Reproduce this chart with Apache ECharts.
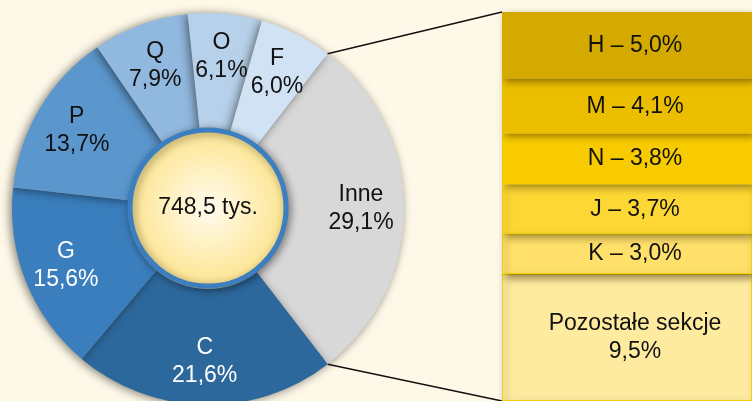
<!DOCTYPE html>
<html>
<head>
<meta charset="utf-8">
<script src="https://cdn.jsdelivr.net/npm/echarts@6/dist/echarts.min.js"></script>
<style>
    html,body{margin:0;padding:0;background:#fdf8e7;}
    #main{width:752px;height:401px;}
</style>
</head>
<body>
<div id="main"></div>
<script>
// dane - koło
var pieNames=["Inne","C","G","P","Q","O","F"];
var pieValues=[29.1,21.6,15.6,13.7,7.9,6.1,6.0];
var pieColors=["#d8d8d8","#2d689c","#3a7ebd","#5b96cc","#91b8de","#b7d1ea","#d0e2f3"];
var whiteLabels=["C","G"];

// dane - rozbicie "Inne"
var boxNames=["H","M","N","J","K","Pozostałe sekcje"];
var boxValues=[5.0,4.1,3.8,3.7,3.0,9.5];
var boxColors=["#d4a900","#ebbf00","#f8cb00","#fdd835","#fee06b","#feeba0"];
var boxBorders=[null,null,null,"#f0cf10","#f0cf10","#f0cf10"];

var total="748,5 tys.";

var font="Liberation Sans, Arial, sans-serif";
var cx=208,cy=209,r0=80,r1=196,start=52.4;

function fmt(v){
    return v.toFixed(1).replace(".",",");
}

var pieData=pieNames.map(function(n,i){
    return {name:n,value:pieValues[i],itemStyle:{color:pieColors[i]}};
})
var labelData=pieNames.map(function(n,i){
    return {name:n,value:pieValues[i]};
})

var sumInne=boxValues.reduce(function(a,b){return a+b;},0);

var series=[{
    type:"pie",
    center:[cx,cy],
    radius:[r0,r1],
    startAngle:start,
    clockwise:true,
    silent:true,
    label:{show:false},
    labelLine:{show:false},
    itemStyle:{shadowBlur:10,shadowColor:"rgba(0,0,0,0.5)",shadowOffsetX:-2,shadowOffsetY:1},
    data:pieData,
    z:2
},{
    // tylko etykiety, trochę dalej od środka
    type:"pie",
    center:[cx,cy],
    radius:[104,r1],
    startAngle:start,
    clockwise:true,
    silent:true,
    itemStyle:{color:"rgba(0,0,0,0)"},
    label:{
        show:true,
        position:"inside",
        formatter:function(p){
            var s=p.name+"\n"+fmt(p.value)+"%";
            return whiteLabels.indexOf(p.name)>=0?"{w|"+s+"}":"{b|"+s+"}";
        },
        rich:{
            w:{color:"#fff",fontFamily:font,fontSize:23,lineHeight:28},
            b:{color:"#111",fontFamily:font,fontSize:23,lineHeight:28}
        }
    },
    labelLine:{show:false},
    data:labelData,
    z:3
}];

boxNames.forEach(function(n,i){
    series.push({
        type:"bar",
        stack:"inne",
        name:n,
        xAxisIndex:0,
        yAxisIndex:0,
        barWidth:"100%",
        z:20-i,
        itemStyle:{
            color:boxColors[i],
            borderColor:boxBorders[i]||boxColors[i],
            borderWidth:boxBorders[i]?1:0,
            shadowBlur:7,
            shadowColor:"rgba(60,40,0,0.5)",
            shadowOffsetX:3,
            shadowOffsetY:3
        },
        label:{
            show:true,
            position:"inside",
            offset:[8,0],
            fontFamily:font,
            fontSize:23,
            lineHeight:28,
            color:"#111",
            formatter:function(p){
                if(i==boxNames.length-1) return n+"\n"+fmt(p.value)+"%";
                return n+" – "+fmt(p.value)+"%";
            }
        },
        data:[boxValues[i]]
    })
})

var myChart=echarts.init(document.getElementById("main"));

var option={
    backgroundColor:"#fdf8e7",
    animation:false,
    grid:{left:502,right:-4,top:12,bottom:-4},
    xAxis:{type:"category",data:["Inne"],show:false},
    yAxis:{type:"value",min:0,max:sumInne,inverse:true,show:false},
    series:series
};
myChart.setOption(option);

// linie łączące koło z prostokątem
var a1=start*Math.PI/180;
var a2=(start-pieValues[0]/100*360)*Math.PI/180;
var yTop=myChart.convertToPixel({yAxisIndex:0},0);
var yBot=myChart.convertToPixel({yAxisIndex:0},sumInne);
var xBox=502;

myChart.setOption({
    graphic:[{
        type:"line",
        z:50,
        shape:{x1:cx+r1*Math.cos(a1),y1:cy-r1*Math.sin(a1),x2:xBox,y2:yTop},
        style:{stroke:"#111",lineWidth:1.5}
    },{
        type:"line",
        z:50,
        shape:{x1:cx+r1*Math.cos(a2),y1:cy-r1*Math.sin(a2),x2:xBox,y2:yBot},
        style:{stroke:"#111",lineWidth:1.5}
    },{
        type:"circle",
        z:60,
        shape:{cx:cx,cy:cy-1,r:78},
        style:{
            fill:new echarts.graphic.RadialGradient(0.5,0.5,0.5,[
                {offset:0,color:"#fffcee"},
                {offset:1,color:"#fde48f"}
            ]),
            stroke:"#3b7fc1",
            lineWidth:5,
            shadowBlur:8,
            shadowColor:"rgba(0,0,0,0.4)",
            shadowOffsetX:2,
            shadowOffsetY:2
        }
    },{
        type:"text",
        z:61,
        x:cx,
        y:cy-1,
        style:{
            text:total,
            fontFamily:font,
            fontSize:23,
            fill:"#111",
            align:"center",
            verticalAlign:"middle"
        }
    }]
});
</script>
</body>
</html>
